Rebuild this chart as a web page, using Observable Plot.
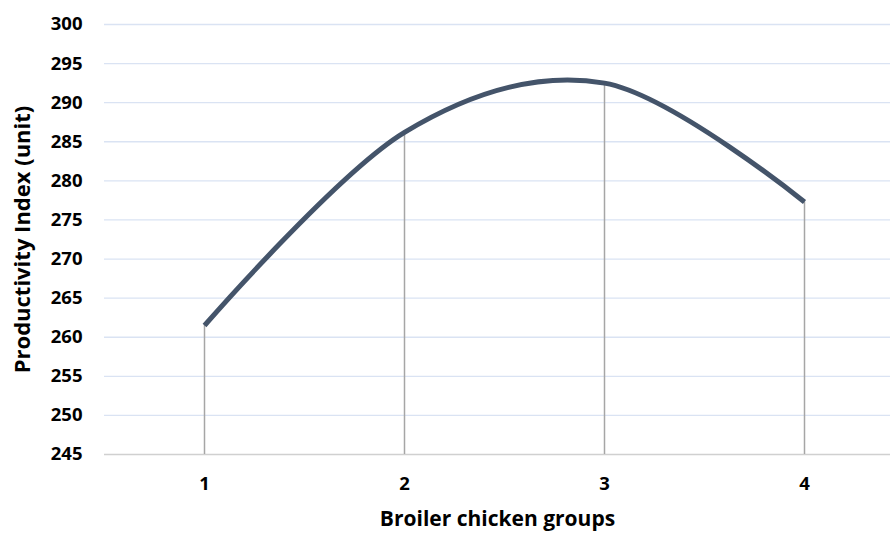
<!DOCTYPE html>
<html>
<head>
<meta charset="utf-8">
<script src="https://cdn.jsdelivr.net/npm/d3@7"></script>
<script src="https://cdn.jsdelivr.net/npm/@observablehq/plot@0.6"></script>
<style>
  html, body { margin: 0; padding: 0; background: #fff; }
  svg { display: block; }
</style>
</head>
<body>
<div id="chart"></div>
<script>
const groups = [1, 2, 3, 4];
const productivity = [261.5, 286.2, 292.5, 277.3];
const yTicks = [245, 250, 255, 260, 265, 270, 275, 280, 285, 290, 295, 300];
const xLabel = "Broiler chicken groups";
const yLabel = "Productivity Index (unit)";

const data = groups.map((g, i) => ({group: g, value: productivity[i]}));
const font = "'Open Sans', sans-serif";

const chart = Plot.plot({
  width: 890,
  height: 536,
  marginLeft: 104,
  marginRight: 0,
  marginTop: 24,
  marginBottom: 82,
  style: {fontFamily: font, background: "#fff", color: "#000"},
  x: {domain: [0.5, 4.43], axis: null},
  y: {domain: [245, 300], axis: null},
  marks: [
    Plot.ruleY(yTicks.filter(d => d !== 245), {stroke: "#dae3f3", strokeWidth: 1.3}),
    Plot.ruleY([245], {stroke: "#d0d0d0", strokeWidth: 1.5}),
    Plot.ruleX(data, {x: "group", y1: 245, y2: "value", stroke: "#a6a6a6", strokeWidth: 1.5}),
    Plot.line(data, {x: "group", y: "value", curve: "cardinal", stroke: "#44546a", strokeWidth: 5, strokeLinecap: "butt"}),
    Plot.axisY(yTicks, {tickSize: 0, tickPadding: 22, fontSize: 18.5, fontWeight: "bold", label: null, fill: "#000"}),
    Plot.axisX(groups, {tickSize: 0, tickPadding: 22, fontSize: 18.5, fontWeight: "bold", label: null, fill: "#000", tickFormat: d => String(d)}),
    Plot.text([xLabel], {frameAnchor: "bottom", dy: 71, fontSize: 21, fontWeight: "bold", fill: "#000"}),
    Plot.text([yLabel], {frameAnchor: "left", dx: -82, textAnchor: "middle", rotate: -90, fontSize: 22, fontWeight: "bold", fill: "#000"})
  ]
});
document.getElementById("chart").appendChild(chart);
</script>
</body>
</html>
